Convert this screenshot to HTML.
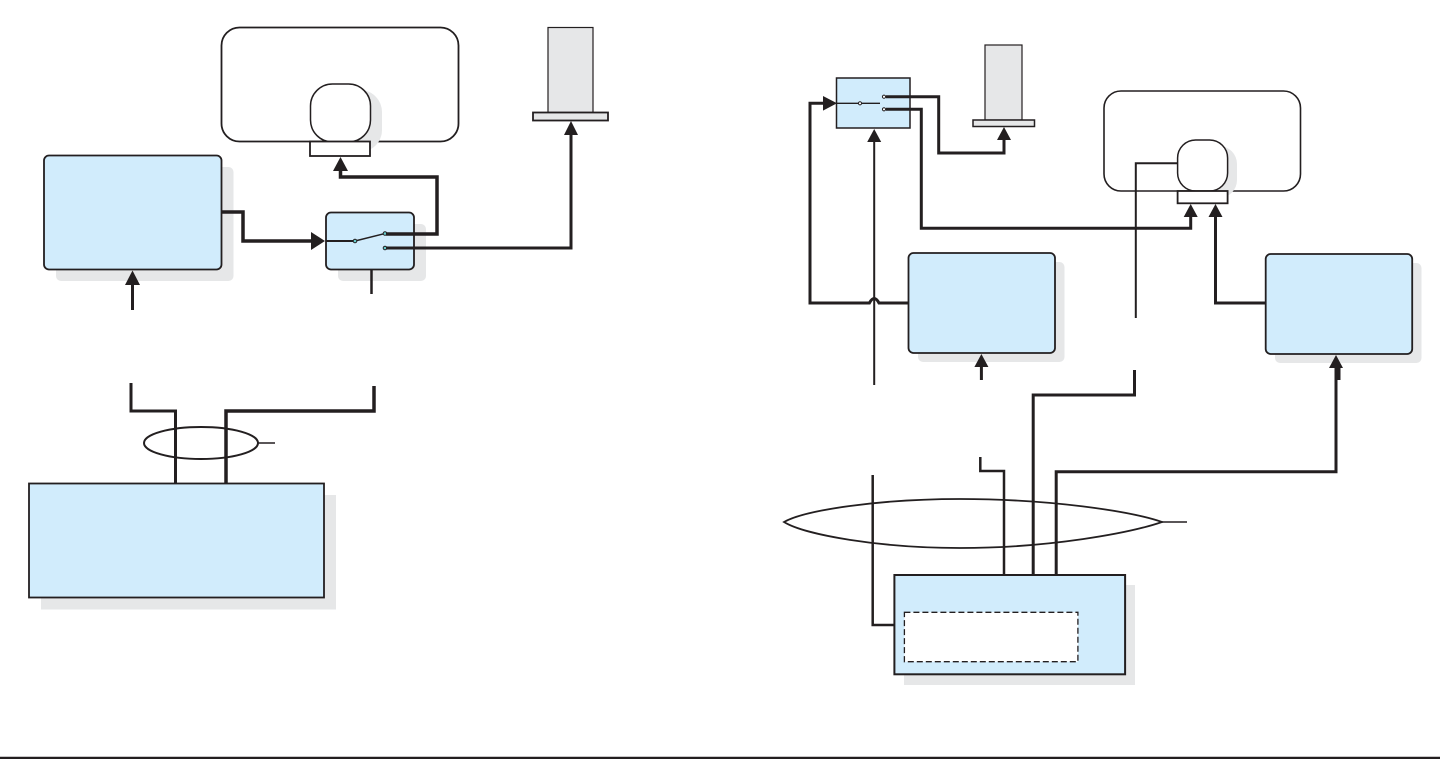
<!DOCTYPE html>
<html><head><meta charset="utf-8"><style>
html,body{margin:0;padding:0;background:#fff;width:1440px;height:759px;overflow:hidden}
svg{display:block}
</style></head><body>
<svg width="1440" height="759" viewBox="0 0 1440 759" xmlns="http://www.w3.org/2000/svg">
<g fill="none" stroke="#231f20" stroke-linejoin="miter">
<!-- LEFT -->
<rect x="221.5" y="27.5" width="237" height="114" rx="18" fill="#fff" stroke-width="1.8"/>
<rect x="322" y="90" width="60" height="62" rx="22" fill="#e6e7e8" stroke="none"/>
<rect x="310.5" y="84" width="60" height="58" rx="22" fill="#fff" stroke-width="1.5"/>
<rect x="310" y="141.5" width="60" height="14.5" fill="#fff" stroke-width="1.8"/>
<rect x="548" y="27.5" width="45" height="85" fill="#e6e7e8" stroke-width="1.2"/>
<rect x="533" y="112.5" width="75" height="8" fill="#e6e7e8" stroke-width="1.8"/>
<rect x="56" y="167" width="177.5" height="114" rx="5" fill="#e6e7e8" stroke="none"/>
<rect x="44" y="155.5" width="177.5" height="114" rx="5" fill="#d1ecfc" stroke-width="1.8"/>
<rect x="338" y="224" width="88" height="57" rx="5" fill="#e6e7e8" stroke="none"/>
<rect x="326" y="212.5" width="88" height="57" rx="5" fill="#d1ecfc" stroke-width="1.8"/>
<polyline points="221.5,212 243,212 243,241 312,241" stroke-width="3.5"/>
<polygon points="311,232 325,241 311,250" fill="#231f20" stroke="none"/>
<line x1="326" y1="241" x2="355" y2="241" stroke-width="2"/>
<line x1="355" y1="241" x2="385" y2="233.5" stroke-width="1.5"/>
<circle cx="355" cy="241" r="1.8" fill="#6cc" stroke-width="1"/>
<circle cx="385" cy="233.5" r="1.8" fill="#6cc" stroke-width="1"/>
<circle cx="385" cy="248" r="1.8" fill="#6cc" stroke-width="1"/>
<polyline points="386,234 437,234 437,177 340.5,177 340.5,168" stroke-width="3.5"/>
<polygon points="333,171 340.5,157 348,171" fill="#231f20" stroke="none"/>
<polyline points="386,248 571,248 571,132" stroke-width="3"/>
<polygon points="564,135 571,121 578,135" fill="#231f20" stroke="none"/>
<line x1="371.5" y1="270" x2="371.5" y2="294" stroke-width="2.5"/>
<line x1="132.5" y1="310" x2="132.5" y2="282" stroke-width="3"/>
<polygon points="125,285 132.5,270.5 140,285" fill="#231f20" stroke="none"/>
<polyline points="131,383 131,411 175.5,411 175.5,483" stroke-width="3"/>
<polyline points="374,386 374,411 226,411 226,483" stroke-width="3.5"/>
<ellipse cx="201" cy="443" rx="57" ry="16" stroke-width="2"/>
<line x1="258" y1="443" x2="275" y2="443" stroke-width="1.5"/>
<rect x="41" y="495" width="295" height="114.5" fill="#e6e7e8" stroke="none"/>
<rect x="29" y="483.5" width="295" height="114" fill="#d1ecfc" stroke-width="1.8"/>

<!-- RIGHT -->
<rect x="985" y="45" width="37" height="75" fill="#e6e7e8" stroke-width="1.2"/>
<rect x="973" y="120" width="61.5" height="6.5" fill="#e6e7e8" stroke-width="1.5"/>
<rect x="836.5" y="78" width="73.5" height="50" fill="#d1ecfc" stroke-width="1.5"/>
<line x1="836" y1="103.3" x2="859" y2="103.3" stroke-width="1.3"/>
<line x1="861" y1="103.3" x2="880" y2="103.3" stroke-width="1.3"/>
<circle cx="860" cy="103.3" r="1.6" fill="#fff" stroke-width="1"/>
<circle cx="884" cy="96.7" r="1.6" fill="#fff" stroke-width="1"/>
<circle cx="884" cy="109.3" r="1.6" fill="#fff" stroke-width="1"/>
<polyline points="886,96.7 938.7,96.7 938.7,153 1004,153 1004,138" stroke-width="3"/>
<polygon points="997,140 1004,127 1011,140" fill="#231f20" stroke="none"/>
<polyline points="886,109.3 921.3,109.3 921.3,228.3 1190.7,228.3 1190.7,216" stroke-width="3"/>
<polygon points="1183.7,217 1190.7,204 1197.7,217" fill="#231f20" stroke="none"/>
<rect x="1104" y="91" width="196.5" height="100" rx="17" fill="#fff" stroke-width="1.6"/>
<rect x="1187" y="146" width="50" height="52" rx="18" fill="#e6e7e8" stroke="none"/>
<rect x="1177.6" y="140" width="50" height="51" rx="18" fill="#fff" stroke-width="1.5"/>
<rect x="1177.6" y="191" width="50" height="12.3" fill="#fff" stroke-width="1.8"/>
<polyline points="1177.6,163.3 1135.8,163.3 1135.8,318" stroke-width="2"/>
<polyline points="1265.7,303 1215.5,303 1215.5,216" stroke-width="3"/>
<polygon points="1208.5,217 1215.5,204 1222.5,217" fill="#231f20" stroke="none"/>
<rect x="918" y="262" width="146.5" height="100" rx="5" fill="#e6e7e8" stroke="none"/>
<rect x="908.5" y="253" width="146.5" height="100" rx="5" fill="#d1ecfc" stroke-width="1.8"/>
<rect x="1275" y="263" width="146.5" height="100" rx="5" fill="#e6e7e8" stroke="none"/>
<rect x="1265.7" y="254" width="146.5" height="100" rx="5" fill="#d1ecfc" stroke-width="1.8"/>
<path d="M908.5,303 L879,303 Q874.2,294 869.4,303 L810,303 L810,103.3 L824,103.3" stroke-width="3"/>
<polygon points="823,96 837,103.3 823,110.6" fill="#231f20" stroke="none"/>
<line x1="874.2" y1="385" x2="874.2" y2="140" stroke-width="2"/>
<polygon points="867.2,142 874.2,129 881.2,142" fill="#231f20" stroke="none"/>
<line x1="981.4" y1="380" x2="981.4" y2="365" stroke-width="3"/>
<polygon points="974.4,367 981.4,354 988.4,367" fill="#231f20" stroke="none"/>
<line x1="1339" y1="380" x2="1339" y2="366" stroke-width="3"/>
<polyline points="872.7,475 872.7,625 894.4,625" stroke-width="2.5"/>
<polyline points="980.3,457 980.3,471 1004,471 1004,575" stroke-width="2.5"/>
<polyline points="1134.5,370 1134.5,395 1033.2,395 1033.2,575" stroke-width="3"/>
<polyline points="1056.2,575 1056.2,471.7 1336,471.7 1336,366" stroke-width="3"/>
<polygon points="1329,368 1336,355 1343,368" fill="#231f20" stroke="none"/>
<path d="M784,522 C805,510 880,499 960,499 C1050,499 1130,511 1162,522 C1130,533 1050,548 960,548 C880,548 805,535 784,522 Z" stroke-width="1.8"/>
<line x1="1162" y1="522" x2="1187" y2="522" stroke-width="1.5"/>
<rect x="904" y="585" width="231" height="100" fill="#e6e7e8" stroke="none"/>
<rect x="894.4" y="575" width="230.7" height="99.3" fill="#d1ecfc" stroke-width="2"/>
<rect x="904.4" y="612.3" width="173.5" height="49.4" fill="#fff" stroke-width="1.3" stroke-dasharray="6,3"/>
<line x1="0" y1="758" x2="1440" y2="758" stroke-width="2.5"/>
</g>
</svg>
</body></html>
